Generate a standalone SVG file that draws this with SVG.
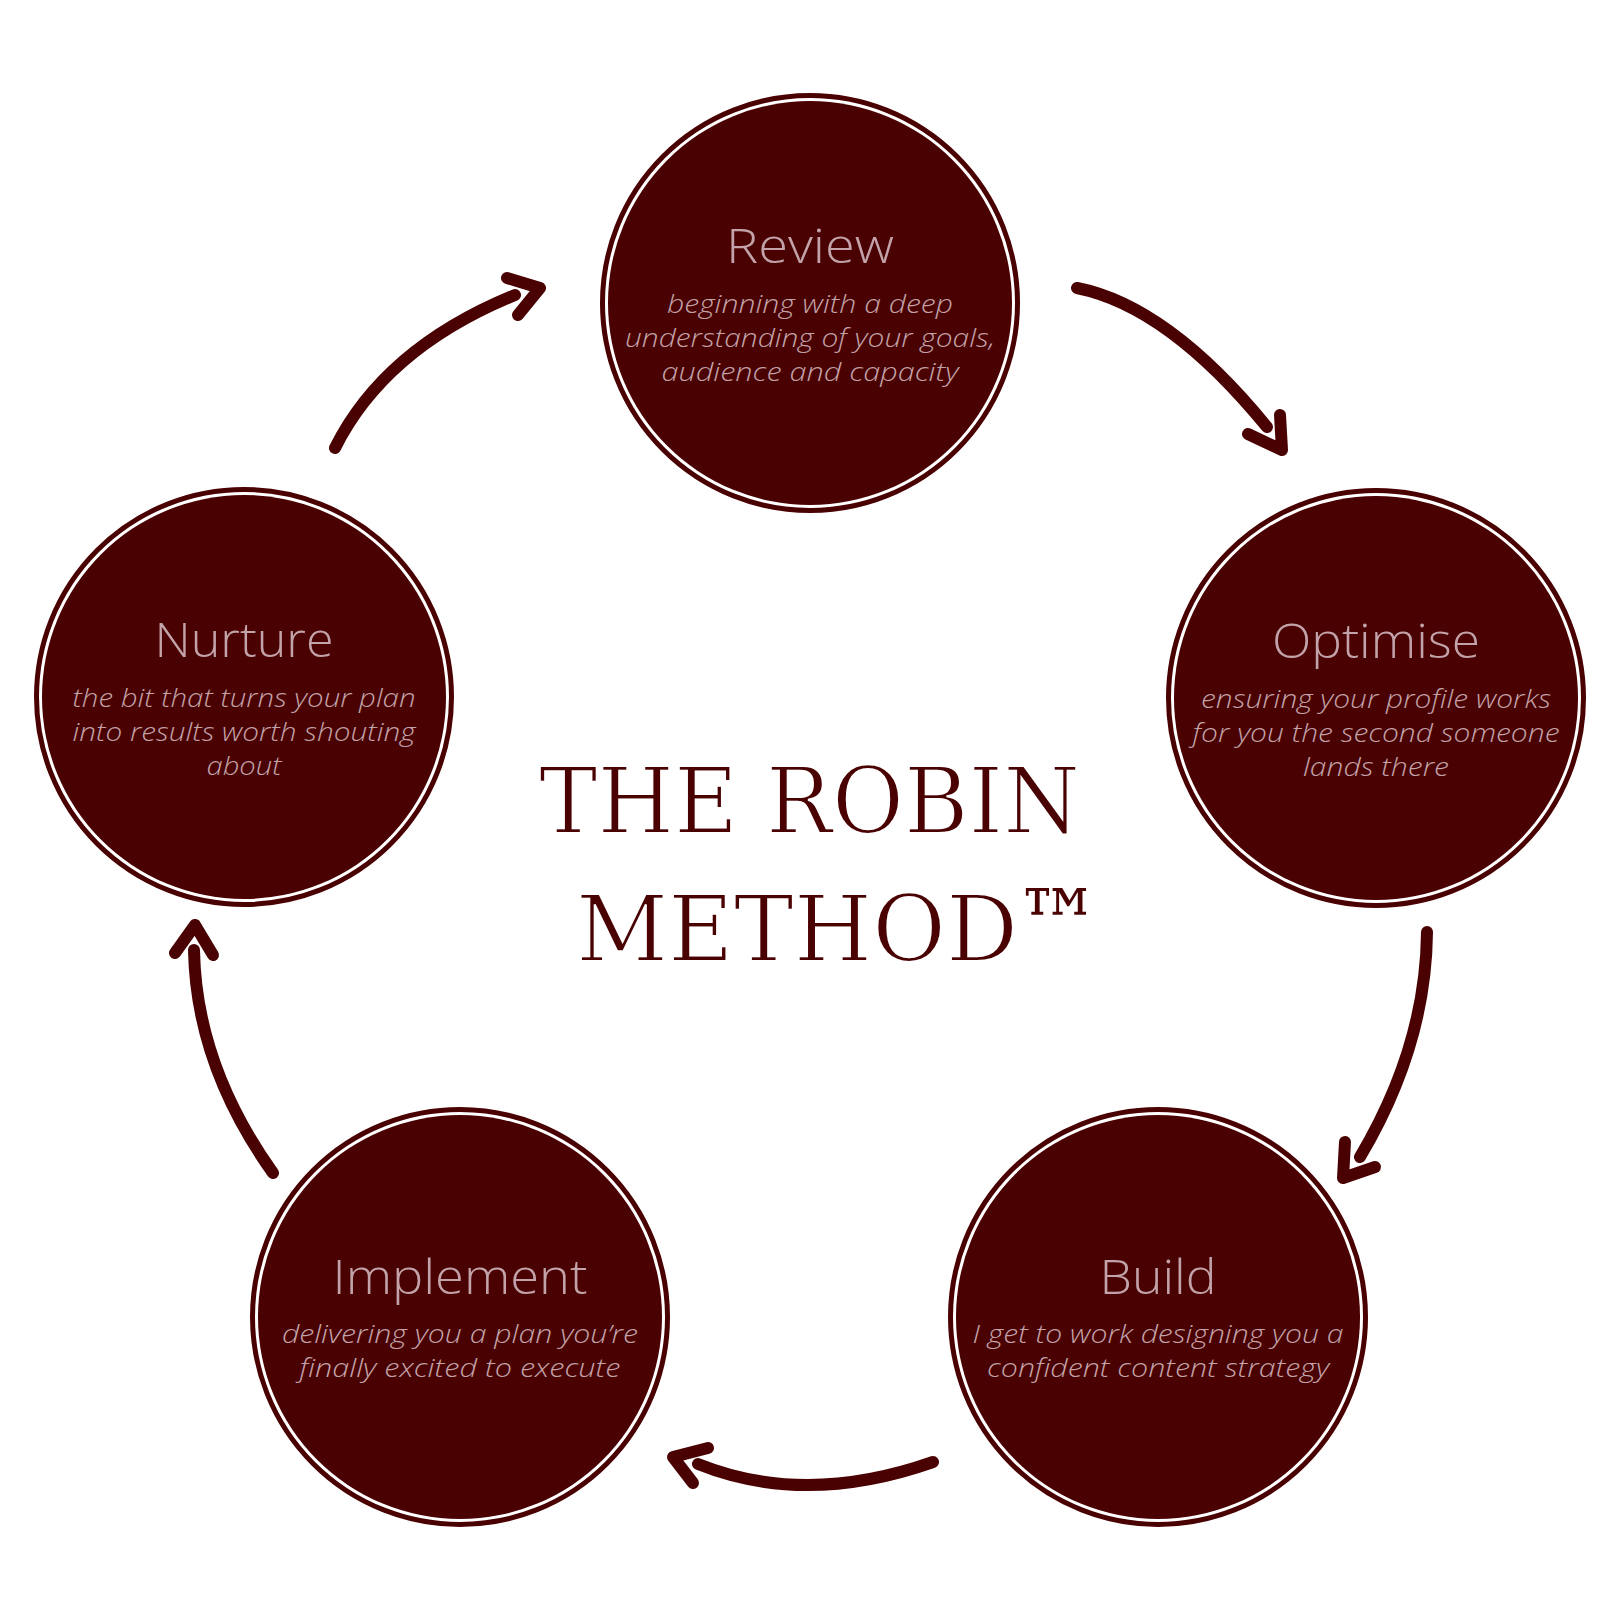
<svg xmlns="http://www.w3.org/2000/svg" width="1620" height="1620" viewBox="0 0 1620 1620">
<style>
.ring{fill:none;stroke:#4a0102;stroke-width:5}
.disk{fill:#4a0102}
.ttl{font-family:"Open Sans",Lato,sans-serif;font-weight:300;font-size:48px;fill:#c2a3a9;text-anchor:middle}
.dsc{font-family:"Open Sans",Lato,sans-serif;font-weight:300;font-style:italic;font-size:26px;fill:#c2a3a9;text-anchor:middle}
.arr{fill:none;stroke:#4a0102;stroke-width:12;stroke-linecap:round;stroke-linejoin:round}
.main{font-family:"DejaVu Serif","Liberation Serif",serif;font-size:92px;fill:#4a0102;stroke:#ffffff;stroke-width:2}
</style>
<rect width="1620" height="1620" fill="#ffffff"/>
<g id="connectors">
<path class="arr" d="M1077,288 Q1168,306 1267,427"/>
<polyline class="arr" points="1280,415 1282,450 1248,434"/>
<path class="arr" d="M1427,932 Q1426,1046 1360,1157"/>
<polyline class="arr" points="1345,1142 1343,1178 1375,1167"/>
<path class="arr" d="M933,1462 Q805,1507 698,1464"/>
<polyline class="arr" points="708,1448 673,1457 693,1483"/>
<path class="arr" d="M273,1173 Q196,1065 194,950"/>
<polyline class="arr" points="175,953 195,925 213,955"/>
<path class="arr" d="M335,448 Q385,348 515,295"/>
<polyline class="arr" points="507,278 540,288 518,315"/>
</g>
<g id="review">
<circle class="ring" cx="810" cy="303" r="207.5"/>
<circle class="disk" cx="810" cy="303" r="202"/>
<text class="ttl" x="810" y="263" textLength="168" lengthAdjust="spacingAndGlyphs">Review</text>
<text class="dsc" x="810" y="313" textLength="286" lengthAdjust="spacingAndGlyphs">beginning with a deep</text>
<text class="dsc" x="810" y="347" textLength="370" lengthAdjust="spacingAndGlyphs">understanding of your goals,</text>
<text class="dsc" x="810" y="381" textLength="297" lengthAdjust="spacingAndGlyphs">audience and capacity</text>
</g>
<g id="optimise">
<circle class="ring" cx="1376" cy="698" r="207.5"/>
<circle class="disk" cx="1376" cy="698" r="202"/>
<text class="ttl" x="1376" y="658" textLength="208" lengthAdjust="spacingAndGlyphs">Optimise</text>
<text class="dsc" x="1376" y="708" textLength="350" lengthAdjust="spacingAndGlyphs">ensuring your profile works</text>
<text class="dsc" x="1376" y="742" textLength="367" lengthAdjust="spacingAndGlyphs">for you the second someone</text>
<text class="dsc" x="1376" y="776" textLength="146" lengthAdjust="spacingAndGlyphs">lands there</text>
</g>
<g id="build">
<circle class="ring" cx="1158" cy="1317" r="207.5"/>
<circle class="disk" cx="1158" cy="1317" r="202"/>
<text class="ttl" x="1158" y="1294" textLength="117" lengthAdjust="spacingAndGlyphs">Build</text>
<text class="dsc" x="1158" y="1343" textLength="371" lengthAdjust="spacingAndGlyphs">I get to work designing you a</text>
<text class="dsc" x="1158" y="1377" textLength="342" lengthAdjust="spacingAndGlyphs">confident content strategy</text>
</g>
<g id="implement">
<circle class="ring" cx="460" cy="1317" r="207.5"/>
<circle class="disk" cx="460" cy="1317" r="202"/>
<text class="ttl" x="460" y="1294" textLength="255" lengthAdjust="spacingAndGlyphs">Implement</text>
<text class="dsc" x="460" y="1343" textLength="356" lengthAdjust="spacingAndGlyphs">delivering you a plan you’re</text>
<text class="dsc" x="460" y="1377" textLength="321" lengthAdjust="spacingAndGlyphs">finally excited to execute</text>
</g>
<g id="nurture">
<circle class="ring" cx="244" cy="697" r="207.5"/>
<circle class="disk" cx="244" cy="697" r="202"/>
<text class="ttl" x="244" y="657" textLength="179" lengthAdjust="spacingAndGlyphs">Nurture</text>
<text class="dsc" x="244" y="707" textLength="343" lengthAdjust="spacingAndGlyphs">the bit that turns your plan</text>
<text class="dsc" x="244" y="741" textLength="343" lengthAdjust="spacingAndGlyphs">into results worth shouting</text>
<text class="dsc" x="244" y="775" textLength="75" lengthAdjust="spacingAndGlyphs">about</text>
</g>
<g id="title">
<text class="main" x="539" y="833" textLength="541" lengthAdjust="spacingAndGlyphs">THE ROBIN</text>
<text class="main" x="576" y="961"><tspan textLength="442" lengthAdjust="spacingAndGlyphs">METHOD</tspan><tspan x="1016" y="957" font-size="95" stroke="none" textLength="85" lengthAdjust="spacingAndGlyphs">™</tspan></text>
</g>
</svg>
